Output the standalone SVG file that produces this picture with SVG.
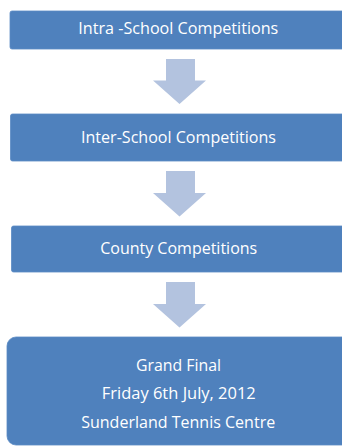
<svg xmlns="http://www.w3.org/2000/svg" width="342" height="446" viewBox="0 0 342 446">
  <style>
    .box { fill: #4F81BD; stroke: #5A8AC4; stroke-width: 0.8; }
    .arrow { fill: #B3C3DF; }
    .label { font-family: "Open Sans", "Liberation Sans", sans-serif; font-size: 16.5px; fill: #FFFFFF; text-anchor: middle; }
  </style>
  <rect width="342" height="446" fill="#FFFFFF"/>

  <g id="connectors">
    <path class="arrow" d="M166 59 H195 V80.5 H206 L179.5 104 L153 80.5 H166 Z"/>
    <path class="arrow" d="M166 171 H195 V193 H206 L179.5 216.5 L153 193 H166 Z"/>
    <path class="arrow" d="M166 282 H195 V304 H206 L179.5 327.5 L153 304 H166 Z"/>
  </g>

  <g id="intra-school">
    <rect class="box" x="10" y="11" width="345" height="38" rx="2"/>
    <text class="label" x="178.3" y="34.3" textLength="200" lengthAdjust="spacingAndGlyphs">Intra -School Competitions</text>
  </g>

  <g id="inter-school">
    <rect class="box" x="10.5" y="114" width="345" height="47" rx="2"/>
    <text class="label" x="178.5" y="143.3" textLength="195" lengthAdjust="spacingAndGlyphs">Inter-School Competitions</text>
  </g>

  <g id="county">
    <rect class="box" x="11.5" y="226" width="345" height="46" rx="2"/>
    <text class="label" x="178.7" y="254.3" textLength="157" lengthAdjust="spacingAndGlyphs">County Competitions</text>
  </g>

  <g id="grand-final">
    <rect class="box" x="7" y="337" width="350" height="108" rx="9"/>
    <text class="label" x="178.5" y="371" textLength="85" lengthAdjust="spacingAndGlyphs">Grand Final</text>
    <text class="label" x="178.8" y="399" textLength="154" lengthAdjust="spacingAndGlyphs">Friday 6th July, 2012</text>
    <text class="label" x="178.2" y="427.7" textLength="194" lengthAdjust="spacingAndGlyphs">Sunderland Tennis Centre</text>
  </g>
</svg>
